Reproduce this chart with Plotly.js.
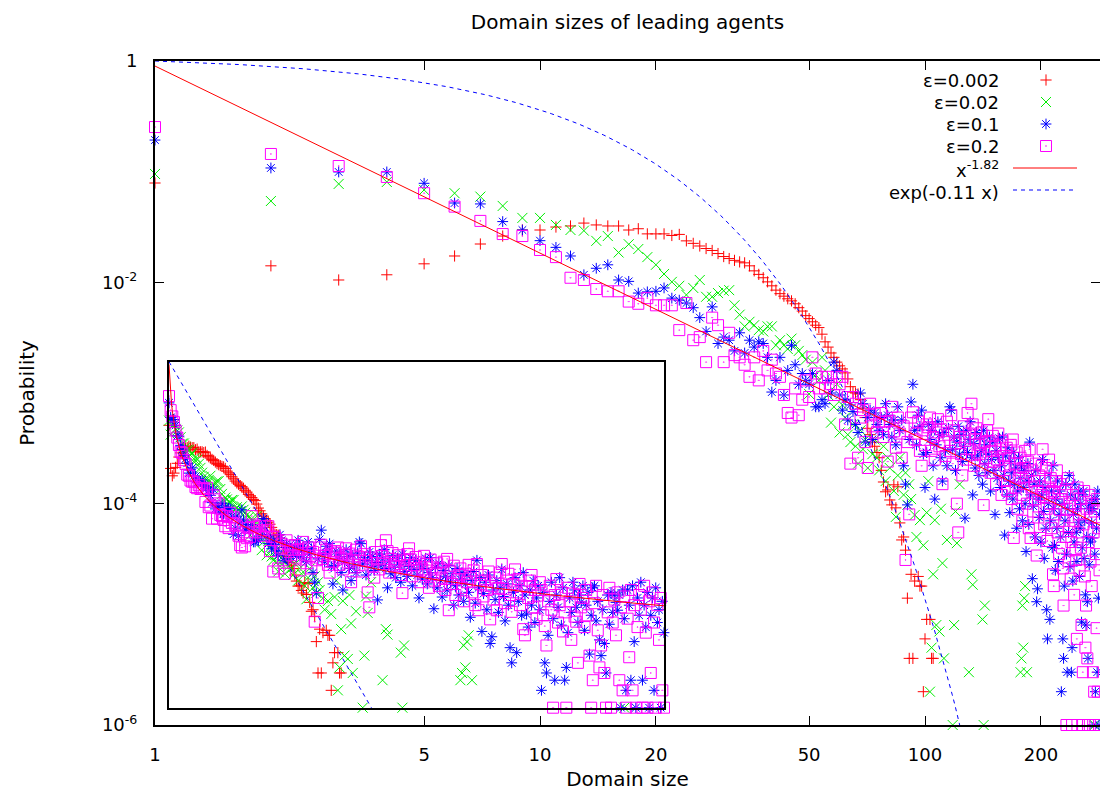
<!DOCTYPE html>
<html><head><meta charset="utf-8">
<script src="https://cdn.plot.ly/plotly-3.0.1.min.js"></script>
<style>html,body{margin:0;padding:0;background:#fff;overflow:hidden}</style>
</head><body><div id="chart" style="width:1100px;height:791px"></div>
<script>
// ---- data: probability of each domain size (index 0 = size 1) ----
const redP = [0.079,0.0141,0.0105,0.0117,0.0147,0.0173,0.0222,0.0262,0.0297,0.0297,
0.0316,0.0323,0.0343,0.033,0.0323,0.0323,0.0297,0.0305,0.0274,0.0274,
0.0274,0.0265,0.0271,0.0237,0.0225,0.0213,0.0202,0.0194,0.0182,0.0171,
0.0164,0.0158,0.0153,0.015,0.0141,0.0127,0.0118,0.011,0.0101,0.0093,
0.0085,0.0079,0.0075,0.0071,0.0068,0.0064,0.0059,0.0055,0.005,0.0047,
0.0044,0.0041,0.0039,0.0034,0.0029,0.0026,0.0023,0.0021,0.0019,0.00176,
0.00165,0.00152,0.00134,0.00114,0.00102,0.001,0.00098,0.00087,0.00073,0.0006,
0.00048,0.00042,0.00036,0.00033,0.00029,0.00026,0.0002,0.000157,0.000128,0.000133,
0.000108,0.0000975,0.000148,0.0000917,0.000142,0.000067,0.000047,0.00005,0.000038,0.000014,
0.000004,0.000023,0.000004,0.00002,null,0.000022,0.000018,0.000018,0.000002,0.000006,
0.000009,null,0.000009,0.000004,0.000004];

const greenP = [0.0953,0.0543,0.0775,0.0807,0.0684,0.0639,0.0595,0.049,0.0382,0.0382,
0.033,0.0297,0.0293,0.0237,0.0262,0.0186,0.0221,0.02,0.0169,0.0144,
0.0119,0.0101,0.0093,0.0077,0.0089,0.0105,0.0074,0.0074,0.008,0.0084,
0.0085,0.0062,0.0051,0.004,0.0044,0.0041,0.0037,0.0036,0.004,0.004,
0.0027,0.003,0.0027,0.0025,0.0031,0.0027,0.0024,0.0022,0.002,0.00098,
0.0019,0.00146,0.0013,0.0021,0.0016,0.00096,0.00054,0.00075,0.0012,0.00044,
0.00078,0.0006,0.00042,0.00036,0.00052,0.00033,0.00023,0.00046,0.00031,0.00038,
0.00021,null,0.00028,0.00038,0.00026,0.0002,null,0.00033,0.00016,0.00026,
0.00021,null,0.00013,0.000076,0.00018,0.00026,null,0.00012,0.00019,0.0000975,
0.00015,0.00011,null,0.000079,0.00005,null,0.000071,null,0.000042,null,
0.000083,0.00016,0.000002,0.000005,0.000023,0.000071,0.000008,null,0.000007,0.00009,
0.000029,0.000004,null,0.000047,null,null,null,0.000001,0.000008,0.000085,
0.000044,null,0.00015,null,null,null,null,null,null,0.000003,
null,0.000023,0.0000185,null,null,null,null,null,null,null,
0.000009,0.000001,0.000012];
const greenTailSize = [177,178,179,180,181,182,184,276];
const greenTailP = [0.000003,0.000004,0.000012,0.000005,0.000014,0.000018,0.000003,0.000001];

const blueP = [0.193,0.108,0.0994,0.0994,0.0785,0.0521,0.0511,0.0354,0.0297,0.0238,
0.0207,0.0173,0.0117,0.0134,0.0144,0.0105,0.0102,0.008,0.0082,0.0083,
0.0089,0.0072,0.0069,0.0065,0.0059,0.0048,0.0036,0.006,0.0028,0.0032,
0.003,0.0024,0.0035,0.0023,0.003,0.0026,0.0029,0.0028,0.0021,0.00102,
0.0013,0.0021,0.00096,0.0016,0.0027,0.0018,0.0012,0.0015,0.0013,0.0012,
0.0015,0.00075,0.00075,0.00087,0.0008,0.0013,0.001,0.0019,0.0016,0.00096,
0.0007,0.00087,0.00057,0.00078,0.00068,0.00052,0.00044,0.001,0.0008,0.00036,
0.0006,0.0007,0.00038,0.00066,0.00052,0.00046,0.0006,0.00042,0.0008,0.00063,
0.00052,0.0004,0.00057,0.00034,0.00075,0.00046,0.00057,0.00022,0.00015,0.0000975,
0.00038,0.00083,0.0012,0.00046,0.00034,0.00063,0.0005,0.0007,0.00028,0.00014,
0.00029,0.00052,0.00038,0.00046,0.00022,0.00011,0.00034,0.00055,0.00042,0.00026,
0.00016,0.00044,0.0003,0.00022,0.00048,0.00075,0.0007,0.00031,0.0004,0.0002,
0.00036,0.0005,0.00028,0.00042,0.00024,0.00033,0.000074,0.00046,0.00029,0.00038,
0.00055,0.00026,0.00012,0.00035,0.00021,0.00044,0.00027,0.00018,0.00039,0.0003,
0.00015,0.00046,0.00023,0.00034,0.00019,0.00028,0.0004,0.00013,0.00025,0.00036,
0.0002,0.00008,0.0003,0.00017,0.00026,0.00039,0.00014,0.00022,0.0004,0.00018,
0.000052,0.00027,0.00012,0.00032,0.00016,0.000083,0.00024,0.00019,0.00011,0.00029,
0.00015,0.00021,0.00006,0.00013,0.00026,0.00009,0.00017,0.00022,0.00007,0.00014,
0.0002,0.0001,0.000037,0.00016,0.00023,0.000065,0.00036,0.00012,0.00018,0.000021,
0.000095,0.00015,0.00005,0.0002,0.000013,0.000017,0.00011,0.000075,0.00016,0.000045,
0.00012,0.00025,0.000085,0.000032,0.00014,0.00006,0.000011,0.000006,0.0001,0.00018,
0.000009,0.00007,0.00013,0.00004,0.00022,0.00009,0.000042,0.000025,0.00011,0.00006,
0.00016,0.00003,0.00008,0.00013,0.00005,0.000002,0.0001,0.000006,0.000004,0.000018,
0.00007,0.00015,0.000035,0.000003,0.00009,0.000055,0.00018,0.000027,0.00012,0.000003,
0.000005,0.00002,0.00008,0.000045,0.00015,0.00011,0.000055,0.00003,0.00009,0.000068,
0.00013,0.000022,0.00006,0.0001,0.0000085,0.00004,0.00012,0.00013,0.000032,0.00007,
0.000015,0.000008,0.00005,0.000013,0.000004,0.00009,0.000028,0.0001,0.000045,0.00009,
0.000067,0.000049,0.00009,0.000001,0.00011,0.000035,0.000002,0.00011,0.00006,0.000003,
0.00013,0.000014,0.000001,0.00008,0.00004,0.00015,0.000003,0.00006,0.000025,0.0001,
0.000001,0.00004,0.00008,0.000002,0.00012,0.00003,0.00005,0.000001,0.00007,0.00002];

const magentaP = [0.253,0.1445,0.1125,0.0896,0.0639,0.0483,0.0359,0.0273,0.0262,0.0196,
0.0169,0.011,0.0105,0.0087,0.0083,0.0083,0.0067,0.0064,0.0072,0.0062,
0.0062,0.0062,0.0037,0.0065,0.003,0.0032,0.0019,0.0048,0.0041,0.0019,
0.0035,0.0022,0.0021,0.0018,0.0014,0.0021,0.0013,0.0024,0.0016,0.002,
0.0015,0.0014,0.00096,0.00066,0.0006,0.0011,0.00063,0.00087,0.0013,0.00092,
0.0021,0.0015,0.0011,0.0014,0.0011,0.0014,0.0012,0.00096,0.0014,0.0012,
0.0014,0.00052,0.00092,0.00023,0.00092,0.0008,0.00026,0.0006,0.0007,0.00036,
0.00021,0.0008,0.0005,0.00065,0.00044,0.00055,0.00066,0.0004,0.00055,0.00024,
0.00056,0.00075,0.00045,0.00032,0.0006,0.00043,0.00026,0.0005,0.000031,0.00036,
0.00008,0.0006,0.00067,0.00038,0.00043,0.00055,0.0003,0.00022,0.00046,0.00034,
0.00052,0.00049,0.0006,0.0003,0.0004,0.00025,0.00044,0.00058,0.00033,0.00047,
0.00015,0.00036,0.00027,0.00055,0.00042,0.0003,0.00063,0.00023,0.00046,0.00035,
0.0001,0.000055,0.0004,0.00028,0.00018,0.0005,0.00037,0.00025,0.00066,0.00043,
0.00031,0.0008,0.00052,0.00022,0.00038,0.00048,0.00029,0.00034,0.00028,0.00044,
0.0002,0.000097,0.00036,0.00026,0.00046,0.00058,0.00037,0.00019,0.0003,0.00041,
0.00024,0.00033,0.00015,0.00025,0.00043,0.0002,0.00031,0.00012,0.00037,0.00027,
0.00016,0.00022,0.00032,0.00013,0.00026,0.00018,0.00034,0.00011,0.00038,0.000049,
0.00023,0.00014,0.00029,0.00009,0.00017,0.0002,0.00026,0.00012,0.00007,0.00021,
0.00015,0.0003,0.000175,0.0001,0.00024,0.00006,0.00031,0.000049,0.00014,0.0002,
0.000085,0.00016,0.00011,0.00023,0.000034,0.00013,0.000075,0.00018,0.000049,0.00012,
0.00022,0.00031,0.000115,0.000065,0.00016,0.00021,0.00009,0.000046,0.00014,0.00025,
0.0001,0.00017,0.00006,0.00013,0.000023,0.000018,0.000125,0.00008,0.00016,0.0002,
0.000055,0.00011,0.000035,0.000088,0.00015,0.00011,0.00004,0.000026,0.000012,0.00007,
0.00013,0.00005,0.000001,0.00009,0.00017,0.00003,0.00006,0.0001,0.000021,0.000045,
0.000001,0.00012,0.00007,0.000015,0.000095,0.000038,0.000031,0.000006,0.00014,0.000055,
0.00008,0.000025,0.00011,0.00004,0.000008,0.000001,0.000003,0.000065,0.00013,0.000022,
0.000005,0.000012,0.00009,0.000004,0.000001,0.000045,0.00012,0.000001,0.00003,0.000075,
0.000018,0.0001,0.000003,0.000055,0.000002,0.000085,0.000001,0.000035,0.0000075,0.00011,
0.000002,0.00006,0.000001,0.000025,0.00009,0.00005,0.000001,0.00013,0.00002,0.000001,
0.00007,0.000004,0.0001,0.00003,0.000001,0.00006,0.000015,0.00008,0.000002,0.000001];

const seriesNames = ['ε=0.002', 'ε=0.02', 'ε=0.1', 'ε=0.2'];
const fitNames = ['x<sup>-1.82</sup>', 'exp(-0.11 x)'];
const xTickVals = [1, 5, 10, 20, 50, 100, 200];
const xTickText = ['1', '5', '10', '20', '50', '100', '200'];
const yTickVals = [1e-6, 1e-4, 1e-2, 1];
const yTickText = ['10<sup>-6</sup>', '10<sup>-4</sup>', '10<sup>-2</sup>', '1'];
// fitted curve parameters (as drawn)
const powA = 0.9, powK = 1.69, expRate = 0.113;

// ---- styles ----
const FONT = 'DejaVu Sans';
const colors = ['#ff0000', '#00ee00', '#0000ff', '#ff00ff'];
const symbols = ['cross-thin-open', 'x-thin-open', 'asterisk-open', 'square-open-dot'];
const sizes = [8, 10, 9, 11];

function sizesOf(arr) { return arr.map((_, i) => i + 1); }
const seriesX = [sizesOf(redP), sizesOf(greenP).concat(greenTailSize), sizesOf(blueP), sizesOf(magentaP)];
const seriesY = [redP, greenP.concat(greenTailP), blueP, magentaP];

const fitXMain = [], fitXInset = [];
for (let i = 0; i <= 400; i++) fitXMain.push(Math.pow(10, 2.48 * i / 400));
for (let i = 0; i <= 600; i++) fitXInset.push(1 + 299 * i / 600);
const powF = x => powA * Math.pow(x, -powK);
const expF = x => Math.exp(-expRate * (x - 1));

const traces = [];
[['x', 'y'], ['x2', 'y2']].forEach(([xa, ya]) => {
  for (let s = 0; s < 4; s++) {
    traces.push({
      type: 'scatter', mode: 'markers', name: seriesNames[s], showlegend: false,
      x: seriesX[s], y: seriesY[s], xaxis: xa, yaxis: ya, cliponaxis: false,
      marker: {symbol: symbols[s], size: sizes[s], color: colors[s], line: {color: colors[s], width: 1}},
      hoverinfo: 'x+y'
    });
  }
  const fx = xa === 'x' ? fitXMain : fitXInset;
  traces.push({type: 'scatter', mode: 'lines', showlegend: false, name: 'power', xaxis: xa, yaxis: ya,
    x: fx, y: fx.map(powF), line: {color: '#ff0000', width: 1}});
  traces.push({type: 'scatter', mode: 'lines', showlegend: false, name: 'exp', xaxis: xa, yaxis: ya,
    x: fx, y: fx.map(expF), line: {color: '#0000ff', width: 1, dash: '4px,4px'}});
});

// ---- gnuplot-style key (pixel positions inside the plot area) ----
const keyTextX = 846, keySampleX = 891, keyLineX = [858, 922];
const keyRowsY = [19, 41, 63, 85, 107, 129];
const keyTextShift = [0, 0, 0, 0, 1, 2];
for (let s = 0; s < 4; s++) {
  traces.push({type: 'scatter', mode: 'markers', showlegend: false, xaxis: 'x3', yaxis: 'y3', hoverinfo: 'skip',
    x: [keySampleX], y: [keyRowsY[s]],
    marker: {symbol: symbols[s], size: sizes[s], color: colors[s], line: {color: colors[s], width: 1}}});
}
traces.push({type: 'scatter', mode: 'lines', showlegend: false, xaxis: 'x3', yaxis: 'y3', hoverinfo: 'skip',
  x: keyLineX, y: [keyRowsY[4], keyRowsY[4]], line: {color: '#ff0000', width: 1}});
traces.push({type: 'scatter', mode: 'lines', showlegend: false, xaxis: 'x3', yaxis: 'y3', hoverinfo: 'skip',
  x: keyLineX, y: [keyRowsY[5], keyRowsY[5]], line: {color: '#0000ff', width: 1, dash: '4px,4px'}});

const keyLabels = seriesNames.concat(fitNames);
const annotations = keyLabels.map((t, i) => ({
  xref: 'x3', yref: 'y3', x: keyTextX, y: keyRowsY[i] + keyTextShift[i], text: t, showarrow: false,
  xanchor: 'right', yanchor: 'middle', font: {family: FONT, size: 18, color: '#000'}
}));

const axisFont = {family: FONT, size: 18, color: '#000'};
const titleFont = {family: FONT, size: 20, color: '#000'};
const baseAxis = {showline: true, linecolor: '#000', linewidth: 2, mirror: 'ticks', ticks: 'inside',
  ticklen: 9, tickwidth: 1, tickcolor: '#000', showgrid: false, zeroline: false, tickfont: axisFont};

const layout = {
  width: 1100, height: 791,
  margin: {l: 155, r: 0, t: 61, b: 66},
  paper_bgcolor: '#ffffff', plot_bgcolor: 'rgba(255,255,255,0)',
  showlegend: false,
  title: {text: 'Domain sizes of leading agents', font: titleFont,
    x: 0.5, xref: 'paper', xanchor: 'center', y: 1 - 22 / 791, yref: 'container', yanchor: 'middle'},
  xaxis: Object.assign({}, baseAxis, {type: 'log', range: [0, 2.4545], domain: [0, 1], anchor: 'y',
    tickmode: 'array', tickvals: xTickVals, ticktext: xTickText, ticklabelstandoff: 12,
    title: {text: 'Domain size', font: titleFont, standoff: 8}}),
  yaxis: Object.assign({}, baseAxis, {type: 'log', range: [-6, 0], domain: [0, 1], anchor: 'x',
    tickmode: 'array', tickvals: yTickVals, ticktext: yTickText, ticklabelstandoff: 12,
    title: {text: 'Probability', font: titleFont, standoff: 62}}),
  xaxis2: {domain: [14 / 945, 509 / 945], anchor: 'y2', range: [1, 300], showline: true, mirror: true,
    linecolor: '#000', linewidth: 2, ticks: '', showticklabels: false, showgrid: false, zeroline: false},
  yaxis2: {domain: [(725 - 707.7) / 664, (725 - 361.7) / 664], anchor: 'x2', type: 'log', range: [-6, 0],
    showline: true, mirror: true, linecolor: '#000', linewidth: 2, ticks: '', showticklabels: false,
    showgrid: false, zeroline: false},
  xaxis3: {domain: [0, 1], anchor: 'y3', range: [0, 945], visible: false, fixedrange: true},
  yaxis3: {domain: [0, 1], anchor: 'x3', range: [664, 0], visible: false, fixedrange: true},
  annotations: annotations
};

Plotly.newPlot('chart', traces, layout, {staticPlot: true, displayModeBar: false});
</script></body></html>
